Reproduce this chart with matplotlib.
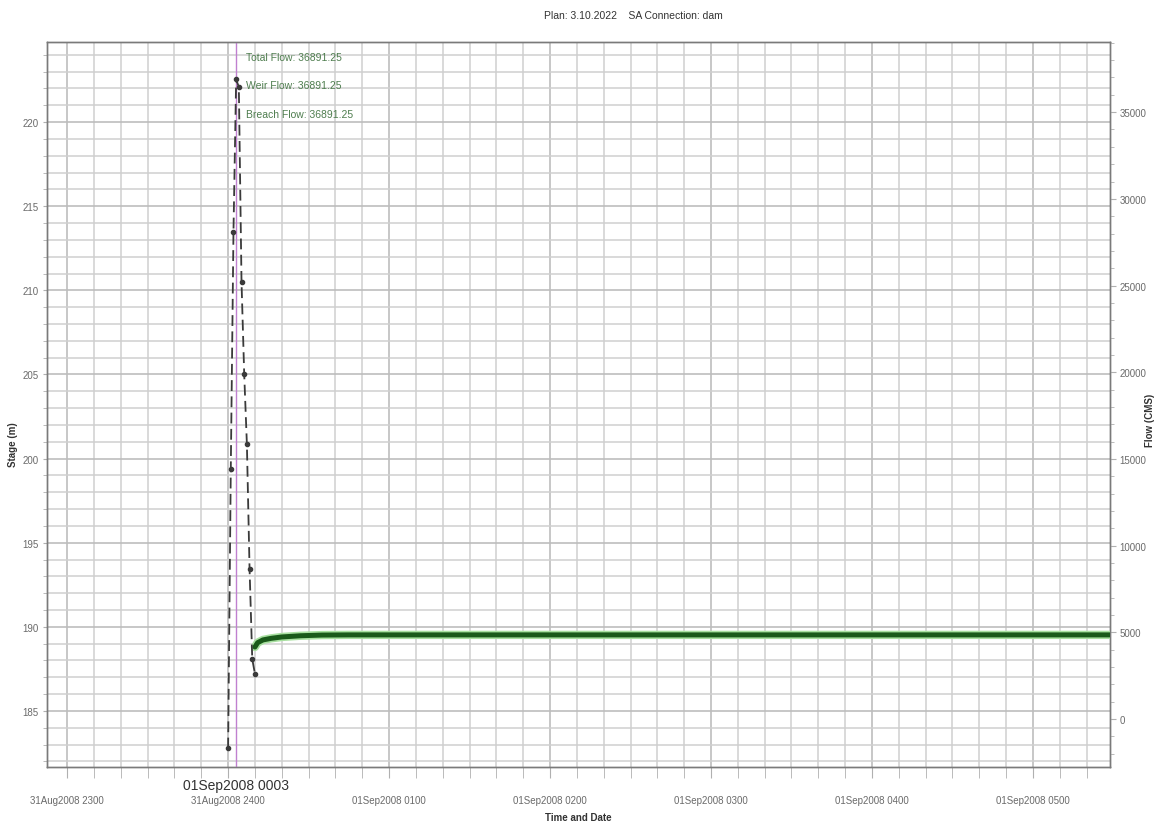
import matplotlib.pyplot as plt
import matplotlib.dates as mdates
import matplotlib.patheffects as pe
import pandas as pd

plt.rcParams['font.family'] = ['Liberation Sans Narrow', 'Liberation Sans', 'DejaVu Sans']

base = pd.Timestamp('2008-09-01 00:00')

# breach hydrograph (total / weir / breach flow all the same), minutes after 01Sep2008 0000
breach_min = [0, 1, 2, 3, 4, 5, 6, 7, 8, 9, 10]
breach_flow = [-1700, 14400, 28100, 36891.25, 36450, 25200, 19900, 15860, 8650, 3460, 2600]

# downstream flow after the breach, minutes after 01Sep2008 0000
down_min = [10, 11, 13, 16, 20, 27, 35, 45, 120, 240, 329]
down_flow = [4150, 4400, 4560, 4650, 4730, 4800, 4840, 4850, 4850, 4850, 4850]

tick_hours = [-1, 0, 1, 2, 3, 4, 5]
tick_labels = ['31Aug2008 2300', '31Aug2008 2400', '01Sep2008 0100', '01Sep2008 0200',
               '01Sep2008 0300', '01Sep2008 0400', '01Sep2008 0500']
stage_ticks = [185, 190, 195, 200, 205, 210, 215, 220]
flow_ticks = [0, 5000, 10000, 15000, 20000, 25000, 30000, 35000]

cursor_min = 3
cursor_text = ['Total Flow: 36891.25', 'Weir Flow: 36891.25', 'Breach Flow: 36891.25']

t_breach = [base + pd.Timedelta(minutes=m) for m in breach_min]
t_down = [base + pd.Timedelta(minutes=m) for m in down_min]
t_cursor = base + pd.Timedelta(minutes=cursor_min)

fig = plt.figure(figsize=(11.61, 8.28), dpi=100)
ax = fig.add_axes([0.0405, 0.0725, 0.9155, 0.8755])
ax2 = ax.twinx()

x0 = base - pd.Timedelta(minutes=67.5)
x1 = base + pd.Timedelta(minutes=328.7)
ax.set_xlim(x0, x1)
ax.set_ylim(181.67, 224.76)
ax2.set_ylim(-2768, 39043)

# labelled ticks
ax.set_xticks([base + pd.Timedelta(hours=h) for h in tick_hours])
ax.set_xticklabels(tick_labels)
ax.set_yticks(stage_ticks)
ax.set_yticklabels([str(v) for v in stage_ticks])
ax2.set_yticks(flow_ticks)
ax2.set_yticklabels([str(v) for v in flow_ticks])

# dense grid: every 10 minutes and every metre
ax.xaxis.set_minor_locator(mdates.MinuteLocator(byminute=range(0, 60, 10)))
ax.yaxis.set_minor_locator(plt.MultipleLocator(1))
ax.grid(True, which='minor', color='#cfcfcf', lw=1.1)
ax.grid(True, which='major', color='#bdbdbd', lw=1.2)
ax.set_axisbelow(True)

ax.tick_params(axis='x', which='both', length=8, color='#b0b0b0', labelsize=7,
               labelcolor='#6a6a6a', pad=12)
ax.tick_params(axis='y', which='both', length=3, color='#b0b0b0', labelsize=7,
               labelcolor='#6a6a6a', pad=3)
ax2.tick_params(axis='y', which='major', length=4, color='#b0b0b0', labelsize=7,
                labelcolor='#6a6a6a', pad=3)
ax2.yaxis.set_minor_locator(plt.MultipleLocator(1000))
ax2.tick_params(axis='y', which='minor', length=3, color='#b0b0b0')

for a in (ax, ax2):
    for s in a.spines.values():
        s.set_color('#7a7a7a')
        s.set_linewidth(1.0)

# series
ax2.plot(t_down, down_flow, color='#1a5a1a', lw=3.6, solid_capstyle='round',
         path_effects=[pe.Stroke(linewidth=6, foreground='#a8e0a0'), pe.Normal()], zorder=3)
ax2.plot(t_breach, breach_flow, color='#3a3a3a', lw=1.3, ls=(0, (6, 3)),
         marker='o', ms=3, zorder=4)

# cursor
ax.axvline(t_cursor, color='#c080d0', lw=1.0, zorder=5)
for i, s in enumerate(cursor_text):
    ax.text(t_cursor + pd.Timedelta(minutes=3.5), 223.9 - i * 1.7, s, fontsize=7.5,
            color='#4e7d4e', va='center', ha='left')
fig.text(236 / 1161, 1 - 786 / 828, '01Sep2008 0003', fontsize=10, color='#333333',
         ha='center', va='center')

fig.text(633 / 1161, 1 - 16 / 828, 'Plan: 3.10.2022    SA Connection: dam', fontsize=7.5,
         color='#333333', ha='center', va='center')
fig.text(578 / 1161, 1 - 818 / 828, 'Time and Date', fontsize=7, fontweight='bold',
         color='#333333', ha='center', va='center')
fig.text(13 / 1161, 1 - 445 / 828, 'Stage (m)', fontsize=7, fontweight='bold',
         color='#333333', ha='center', va='center', rotation=90)
fig.text(1150 / 1161, 1 - 420 / 828, 'Flow (CMS)', fontsize=7, fontweight='bold',
         color='#333333', ha='center', va='center', rotation=90)

fig.savefig('out.png', dpi=100)
